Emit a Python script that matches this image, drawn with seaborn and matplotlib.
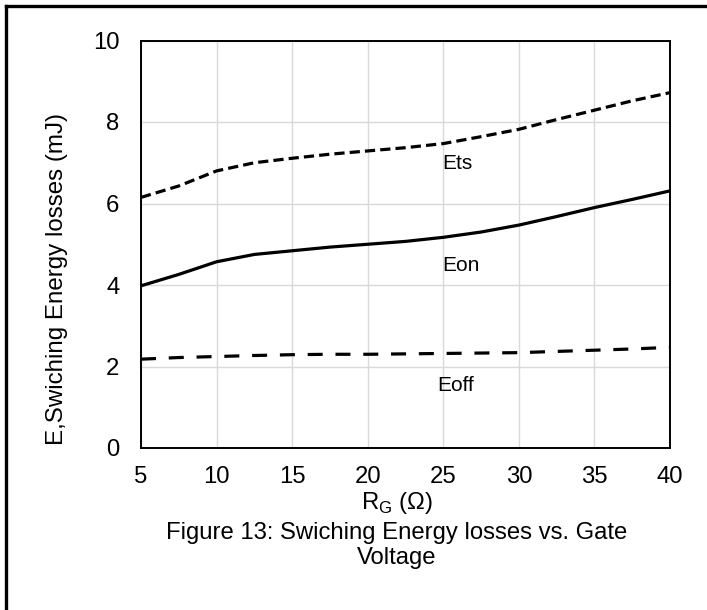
import numpy as np
import pandas as pd
import seaborn as sns
import matplotlib
matplotlib.use("Agg")
import matplotlib.pyplot as plt
from matplotlib.lines import Line2D

# ---- data ----
rg = [5, 7.5, 10, 12.5, 15, 17.5, 20, 22.5, 25, 27.5, 30, 32.5, 35, 37.5, 40]
ets = [6.15, 6.43, 6.80, 7.00, 7.11, 7.21, 7.29, 7.37, 7.47, 7.64, 7.82, 8.06, 8.29, 8.52, 8.72]
eon = [3.98, 4.26, 4.57, 4.75, 4.84, 4.93, 5.00, 5.07, 5.17, 5.30, 5.47, 5.68, 5.90, 6.10, 6.31]
eoff = [2.18, 2.22, 2.245, 2.27, 2.29, 2.30, 2.30, 2.31, 2.32, 2.33, 2.34, 2.37, 2.40, 2.43, 2.47]

x_ticks = [5, 10, 15, 20, 25, 30, 35, 40]
y_ticks = [0, 2, 4, 6, 8, 10]

series_labels = ["Ets", "Eon", "Eoff"]
label_pos = [(24.9, 6.99), (24.9, 4.49), (24.6, 1.53)]

x_label = "R$_\\mathregular{G}$ (\u03a9)"
y_label = "E,Swiching Energy losses (mJ)"
caption = "Figure 13: Swiching Energy losses vs. Gate\nVoltage"

sns.set_theme(style="white")
plt.rcParams["font.family"] = ["Liberation Sans", "DejaVu Sans"]

W, H = 707, 610
fig = plt.figure(figsize=(W / 100, H / 100), dpi=100)
ax_l, ax_r, ax_t, ax_b = 141, 670, 40.5, 448
ax = fig.add_axes([ax_l / W, 1 - ax_b / H, (ax_r - ax_l) / W, (ax_b - ax_t) / H])

df = pd.DataFrame({"rg": rg, "ets": ets, "eon": eon, "eoff": eoff})

sns.lineplot(data=df, x="rg", y="ets", ax=ax, color="black", linewidth=2.3)
sns.lineplot(data=df, x="rg", y="eon", ax=ax, color="black", linewidth=2.3)
sns.lineplot(data=df, x="rg", y="eoff", ax=ax, color="black", linewidth=2.3)
lines = ax.get_lines()
lines[0].set_dashes([3.2, 1.6])
lines[2].set_dashes([4.7, 4.0])
for ln in lines:
    ln.set_solid_capstyle("butt")
    ln.set_dash_capstyle("butt")
    ln.set_solid_joinstyle("round")

ax.set_xlim(5, 40)
ax.set_ylim(0, 10)
ax.set_xticks(x_ticks)
ax.set_yticks(y_ticks)
ax.set_xticklabels([str(v) for v in x_ticks])
ax.set_yticklabels([str(v) for v in y_ticks])
ax.tick_params(axis="both", length=0, labelsize=17.2, colors="black")
ax.tick_params(axis="y", pad=15.5)
ax.tick_params(axis="x", pad=13)
ax.grid(True, color="#d9d9d9", linewidth=1.0)
ax.set_axisbelow(True)
for sp in ax.spines.values():
    sp.set_visible(True)
    sp.set_color("black")
    sp.set_linewidth(1.4)
ax.set_xlabel("")
ax.set_ylabel("")

for lab, (lx, ly) in zip(series_labels, label_pos):
    ax.text(lx, ly, lab, fontsize=15, ha="left", va="center", color="black")

fig.text(57 / W, 1 - 279 / H, y_label, rotation=90, ha="center", va="center",
         fontsize=17.4, color="black")
fig.text(397 / W, 1 - 503 / H, x_label, ha="center", va="center",
         fontsize=17.2, color="black")
fig.text(397 / W, 1 - 545.5 / H, caption, ha="center", va="center",
         multialignment="center", linespacing=1.13, fontsize=17.2, color="black")

# figure frame (left and top edges visible in the reference)
fig.add_artist(Line2D([5.5 / W, 5.5 / W], [0, 1 - 5.5 / H], transform=fig.transFigure,
                      color="black", linewidth=2.4, solid_capstyle="projecting"))
fig.add_artist(Line2D([5.5 / W, 1], [1 - 5.5 / H, 1 - 5.5 / H], transform=fig.transFigure,
                      color="black", linewidth=2.4, solid_capstyle="projecting"))

fig.savefig("out.png", dpi=100, facecolor="white")
